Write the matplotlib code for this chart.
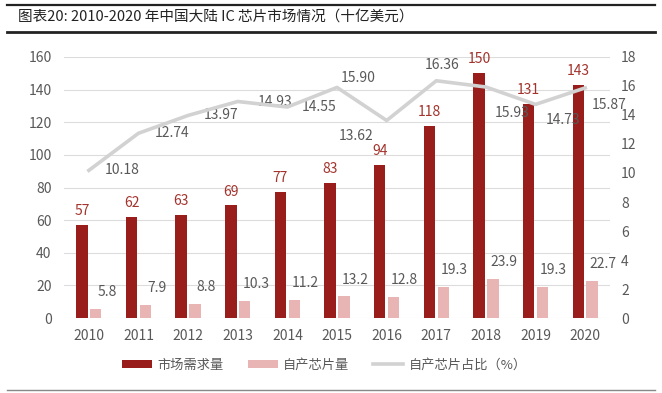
from matplotlib import pyplot as plt
import numpy as np

plt.rcParams["font.family"] = ["Noto Sans CJK SC", "DejaVu Sans"]

years = ["2010", "2011", "2012", "2013", "2014", "2015", "2016", "2017", "2018", "2019", "2020"]
demand = [57, 62, 63, 69, 77, 83, 94, 118, 150, 131, 143]
own_prod = [5.8, 7.9, 8.8, 10.3, 11.2, 13.2, 12.8, 19.3, 23.9, 19.3, 22.7]
own_ratio = [10.18, 12.74, 13.97, 14.93, 14.55, 15.90, 13.62, 16.36, 15.93, 14.73, 15.87]

# where each ratio label sits relative to its point (points)
ratio_offsets = [(24, 0), (24, 0), (24, 0), (27, 0), (23, 0), (15, 7), (-22, -11),
                 (4, 11), (19, -19), (20, -11), (17, -12)]

dark_red = "#981d1b"
pink = "#e8b4b4"
line_gray = "#d2d2d2"
text_gray = "#595959"
fs = 10

fig = plt.figure(figsize=(6.62, 3.93), dpi=100)
ax = fig.add_axes([0.0967, 0.1908, 0.8248, 0.6642])

x = np.arange(len(years))
width = 0.23

ax.bar(x - 0.14, demand, width=width, color=dark_red, label="市场需求量", zorder=3)
ax.bar(x + 0.14, own_prod, width=width, color=pink, label="自产芯片量", zorder=3)

for i in range(len(years)):
    ax.annotate(str(demand[i]), (x[i] - 0.14, demand[i]), xytext=(0, 5),
                textcoords="offset points", ha="center", va="bottom",
                color="#a3332c", fontsize=fs)
    ax.annotate(f"{own_prod[i]:.1f}", (x[i] + 0.14, own_prod[i]), xytext=(8, 7),
                textcoords="offset points", ha="center", va="bottom",
                color=text_gray, fontsize=fs)

ax.set_xlim(-0.5, len(years) - 0.5)
ax.set_ylim(0, 160)
ax.set_yticks(np.arange(0, 161, 20))
ax.set_xticks(x)
ax.set_xticklabels(years)
ax.grid(axis="y", color="#dcdcdc", linewidth=0.8, zorder=0)
ax.tick_params(length=0, labelsize=fs, colors=text_gray)
ax.tick_params(axis="x", pad=8)
ax.tick_params(axis="y", pad=9)
for s in ax.spines.values():
    s.set_visible(False)

ax2 = ax.twinx()
ax2.plot(x, own_ratio, color=line_gray, linewidth=2.6, label="自产芯片占比（%）", zorder=4)
for i in range(len(years)):
    dx, dy = ratio_offsets[i]
    ax2.annotate(f"{own_ratio[i]:.2f}", (x[i], own_ratio[i]), xytext=(dx, dy),
                 textcoords="offset points", ha="center", va="center",
                 color=text_gray, fontsize=fs)
ax2.set_ylim(0, 18)
ax2.set_yticks(np.arange(0, 19, 2))
ax2.tick_params(length=0, labelsize=fs, colors=text_gray, pad=8)
for s in ax2.spines.values():
    s.set_visible(False)

h1, l1 = ax.get_legend_handles_labels()
h2, l2 = ax2.get_legend_handles_labels()
fig.legend(h1 + h2, l1 + l2, loc="center", bbox_to_anchor=(0.49, 0.071), ncol=3,
           frameon=False, fontsize=9.5, handlelength=2.3, handleheight=0.5,
           handletextpad=0.4, columnspacing=1.8, labelcolor=text_gray)

# title and rules
fig.text(0.027, 0.957, "图表20: 2010-2020 年中国大陆 IC 芯片市场情况（十亿美元）",
         fontsize=10.5, color="#222222", va="center", ha="left", fontweight="medium")
fig.add_artist(plt.Line2D([0.01, 0.99], [0.987, 0.987], color="#222222", linewidth=1.6))
fig.add_artist(plt.Line2D([0.01, 0.99], [0.918, 0.918], color="#222222", linewidth=2.0))
fig.add_artist(plt.Line2D([0.01, 0.99], [0.008, 0.008], color="#888888", linewidth=1.0))

fig.savefig("out.png", dpi=100)
